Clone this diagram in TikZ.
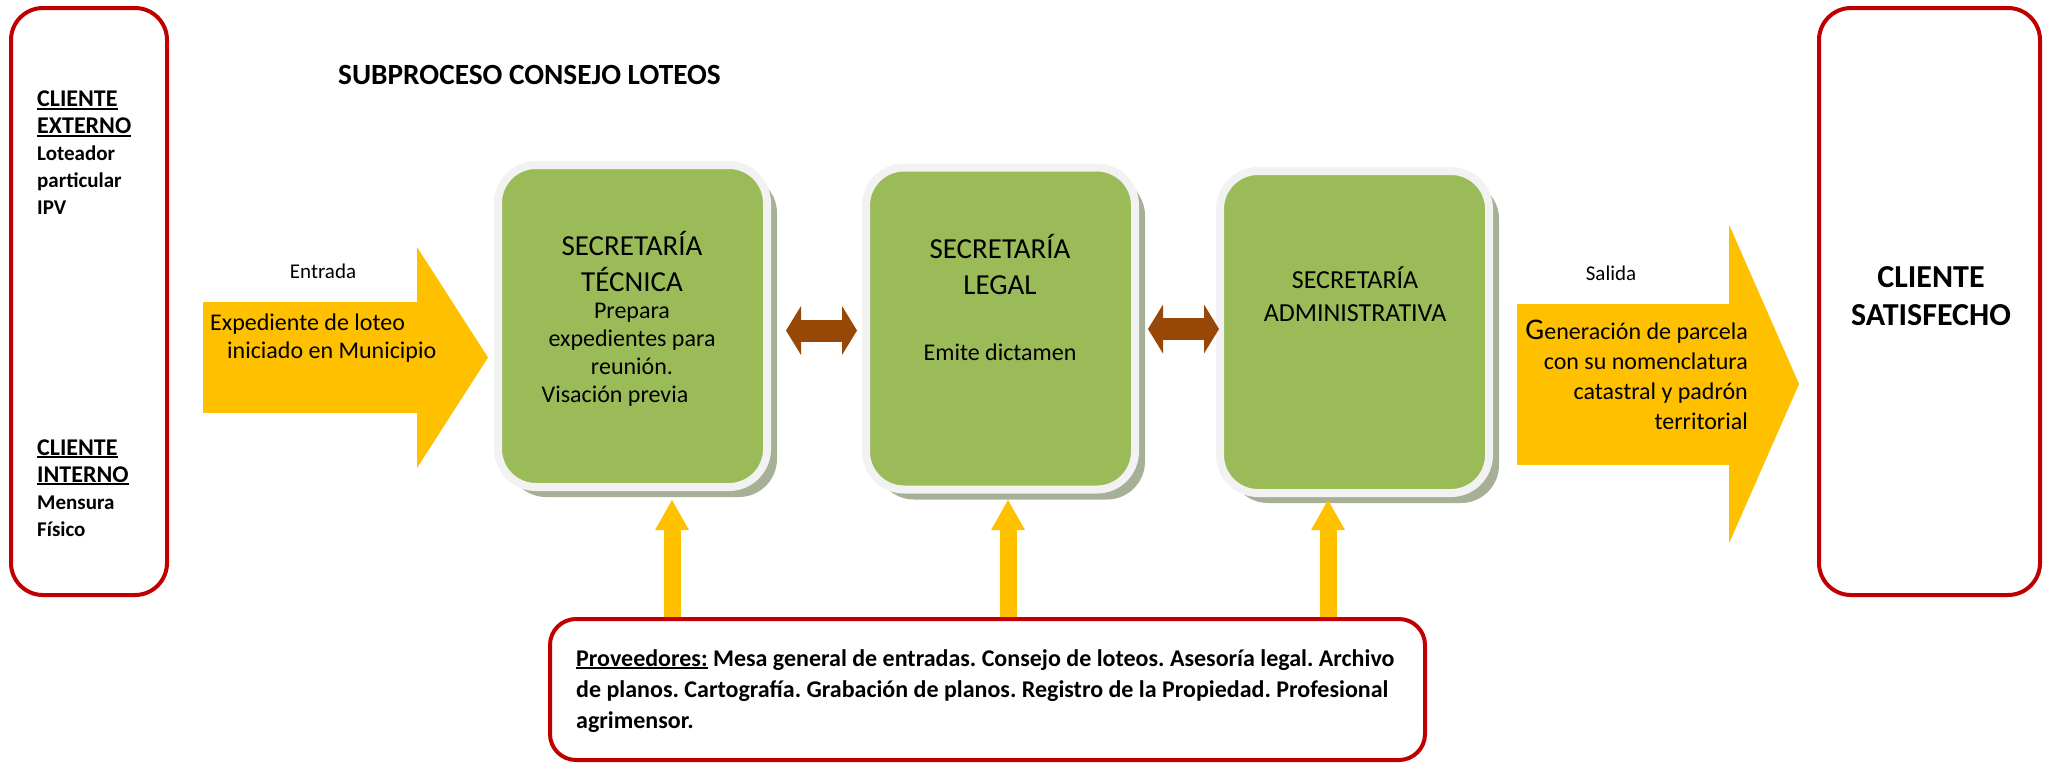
\documentclass[tikz,border=0pt]{standalone}
\usepackage{fontspec}
\setmainfont{Carlito}
\usepackage{tikz}
\usetikzlibrary{arrows.meta,shadows}

\definecolor{clired}{RGB}{192,0,0}
\definecolor{secgreen}{RGB}{155,187,89}
\definecolor{secglow}{RGB}{242,242,242}
\definecolor{secshadow}{RGB}{166,176,150}
\definecolor{flowyellow}{RGB}{255,192,0}
\definecolor{linkbrown}{RGB}{152,72,6}

\newsavebox{\ulbox}
\newcommand{\ulword}[1]{\sbox{\ulbox}{#1}\rlap{\rule[-3pt]{\wd\ulbox}{2pt}}\usebox{\ulbox}}
\newcommand{\clihead}[1]{{\fontsize{24}{27}\selectfont\ulword{#1}}}
\frenchspacing

\begin{document}
\begin{tikzpicture}[x=1pt,y=-1pt,
        clibox/.style={draw=clired,line width=4pt,rounded corners=32pt,inner sep=0pt},
        secbox/.style={fill=secgreen,draw=secglow,line width=8pt,rounded corners=38pt,
            minimum width=269pt,minimum height=322pt,inner sep=0pt,
            drop shadow={shadow xshift=10pt,shadow yshift=-10pt,fill=secshadow,opacity=1}},
        sectitle/.style={align=center,font=\fontsize{29}{36}\selectfont},
        secbody/.style={align=center,font=\fontsize{24}{28}\selectfont},
        clitext/.style={align=left,anchor=west,inner sep=0pt,font=\fontsize{21}{27}\selectfont\bfseries},
        flowlabel/.style={font=\fontsize{21}{25}\selectfont},
        flowarrow/.style={draw=flowyellow},
        linkarrow/.style={draw=linkbrown,line width=22pt,
            {Triangle[width=49pt,length=15pt,line width=0pt]}-{Triangle[width=49pt,length=15pt,line width=0pt]}},
        suparrow/.style={draw=flowyellow,line width=17pt,
            -{Triangle[width=34pt,length=30pt,line width=0pt]}}]

            \useasboundingbox (0,0) rectangle (2049,764);

            \node[clibox,minimum width=156pt,minimum height=587pt] (cliL) at (89,301.5) {};
            \node[clibox,minimum width=221pt,minimum height=587pt] (cliR) at (1929.5,301.5) {};

            \node[secbox] (tec) at (632.5,326) {};
            \node[secbox] (leg) at (1000.5,328.5) {};
            \node[secbox] (adm) at (1354.5,332) {};

            \coordinate (inY) at (0,357.5);
            \coordinate (outY) at (0,384);
            \draw[flowarrow,line width=111pt,-{Triangle[width=221pt,length=71pt,line width=0pt]},
                shorten <=34pt,shorten >=6pt] (cliL.east |- inY) -- (tec.west |- inY);
            \draw[flowarrow,line width=161pt,-{Triangle[width=319pt,length=70pt,line width=0pt]},
                shorten <=24pt,shorten >=18pt] (adm.east |- outY) -- (cliR.west |- outY);

            \coordinate (tl) at ([yshift=-4.5pt]tec.east);
            \coordinate (ll) at ([yshift=-0.5pt]leg.east);
            \draw[linkarrow,shorten <=15pt,shorten >=5pt] (tl) -- (tl -| leg.west);
            \draw[linkarrow,shorten <=9pt,shorten >=-3pt] (ll) -- (ll -| adm.west);

            \coordinate (tecIn) at ([xshift=39.5pt]tec.south);
            \coordinate (legIn) at ([xshift=7.5pt]leg.south);
            \coordinate (admIn) at ([xshift=-26.5pt]adm.south);
            \node[clibox,minimum width=875pt,minimum height=141pt,rounded corners=26pt] (sup) at (987.5,689.5) {};
            \draw[suparrow,shorten >=9pt] (tecIn |- sup.north) -- (tecIn);
            \draw[suparrow,shorten >=6.5pt] (legIn |- sup.north) -- (legIn);
            \draw[suparrow,shorten >=3pt] (admIn |- sup.north) -- (admIn);

            \node[font=\fontsize{29.3}{35}\selectfont\bfseries,anchor=west,inner sep=0pt] (title) at (338,75)
                {SUBPROCESO CONSEJO LOTEOS};

            \node[clitext] (extT) at (37,153)
                {\clihead{CLIENTE}\\\clihead{EXTERNO}\\Loteador\\particular\\IPV};
            \node[clitext] (intT) at (37,488)
                {\clihead{CLIENTE}\\\clihead{INTERNO}\\Mensura\\Físico};

            \node[flowlabel] (inLab) at (323,271) {Entrada};
            \node[align=left,anchor=west,inner sep=0pt,font=\fontsize{24}{28}\selectfont] (inTxt) at (210,338)
                {Expediente de loteo\\\hspace*{17pt}iniciado en Municipio};

            \node[flowlabel] (outLab) at (1611,273) {Salida};
            \node[align=right,anchor=east,inner sep=0pt,font=\fontsize{24}{30}\selectfont] (outTxt) at (1748,375)
                {{\fontsize{30}{30}\selectfont G}eneración de parcela\\con su nomenclatura\\catastral y padrón\\territorial};

            \node[sectitle] (tecT) at (632,261) {SECRETARÍA\\TÉCNICA};
            \node[secbody] (tecB) at (632,355)
                {Prepara\\expedientes para\\reunión.\\\hspace*{-34pt}Visación previa};
            \node[sectitle] (legT) at (1000,264) {SECRETARÍA\\LEGAL};
            \node[secbody] (legB) at (1000,352) {Emite dictamen};
            \node[sectitle,font=\fontsize{26}{33}\selectfont] (admT) at (1355,294) {SECRETARÍA\\ADMINISTRATIVA};

            \node[align=center,font=\fontsize{32}{38}\selectfont\bfseries] (cliRT) at (1931,296) {CLIENTE\\SATISFECHO};

            \node[align=left,anchor=west,inner sep=0pt,font=\fontsize{24}{31}\selectfont\bfseries] (supT) at (576,691)
                {\ulword{Proveedores:} Mesa general de entradas. Consejo de loteos. Asesoría legal. Archivo\\
                de planos. Cartografía. Grabación de planos. Registro de la Propiedad. Profesional\\
                agrimensor.};

\end{tikzpicture}
\end{document}
